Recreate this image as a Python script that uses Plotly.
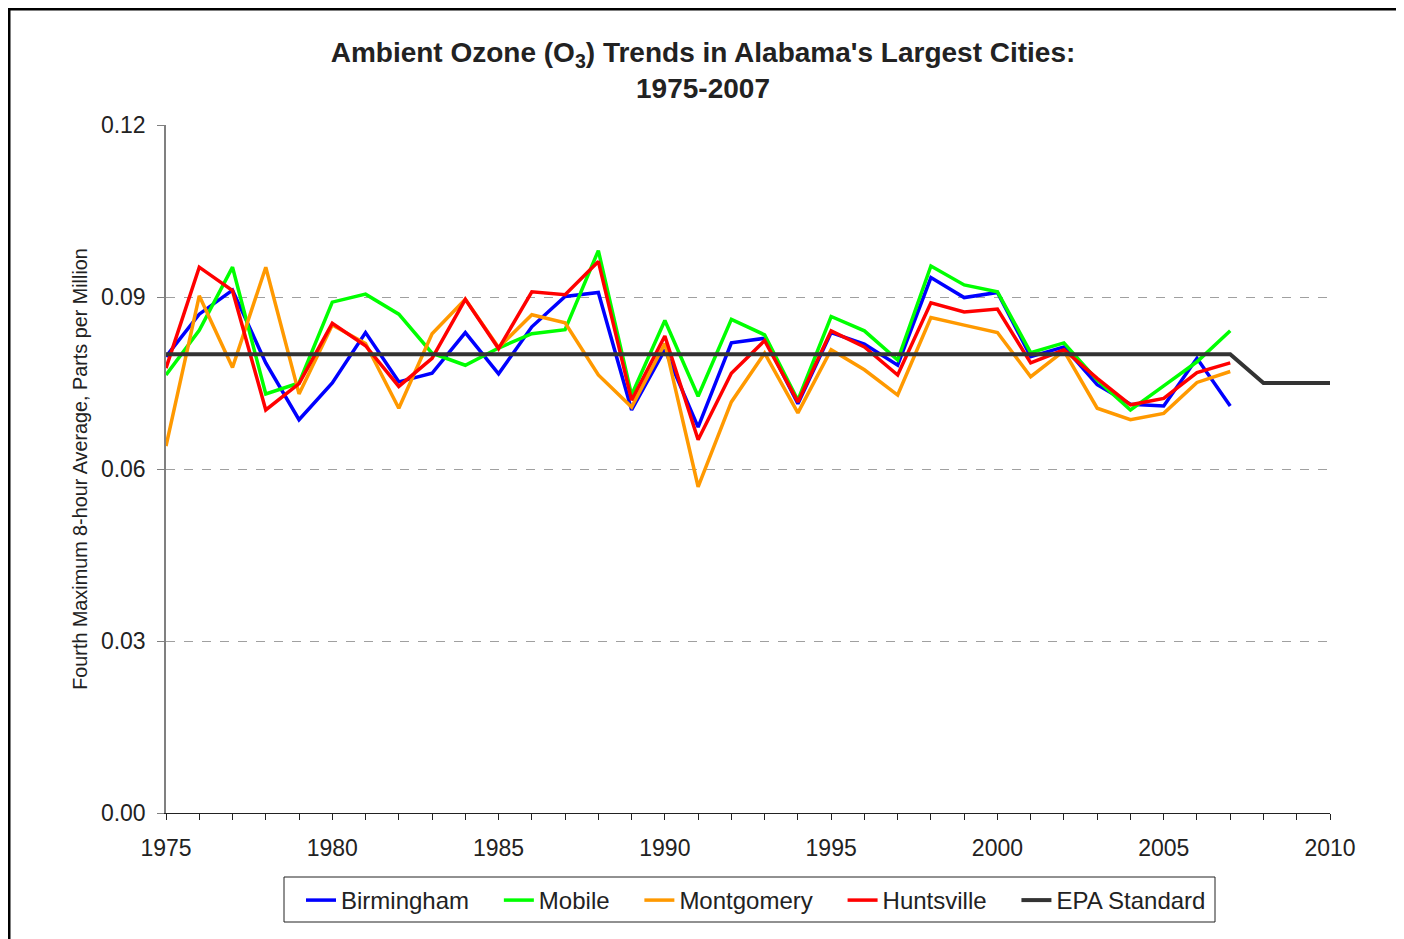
import plotly.graph_objects as go

years = list(range(1975, 2008))
birmingham = [0.0796, 0.0870, 0.0912, 0.0785, 0.0686, 0.0750, 0.0838, 0.0752, 0.0767, 0.0838,
              0.0766, 0.0848, 0.0901, 0.0908, 0.0703, 0.0808, 0.0673, 0.0820, 0.0828, 0.0714,
              0.0838, 0.0818, 0.0781, 0.0934, 0.0899, 0.0908, 0.0796, 0.0813, 0.0747, 0.0713,
              0.0710, 0.0793, 0.0710]
mobile = [0.0764, 0.0842, 0.0952, 0.0731, 0.0750, 0.0891, 0.0905, 0.0870, 0.0802, 0.0781,
          0.0811, 0.0836, 0.0843, 0.0981, 0.0729, 0.0859, 0.0727, 0.0861, 0.0834, 0.0720,
          0.0866, 0.0841, 0.0790, 0.0954, 0.0921, 0.0909, 0.0803, 0.0820, 0.0755, 0.0703,
          0.0745, 0.0787, 0.0841]
montgomery = [0.0640, 0.0902, 0.0777, 0.0952, 0.0731, 0.0851, 0.0819, 0.0706, 0.0836, 0.0896,
              0.0812, 0.0869, 0.0855, 0.0764, 0.0708, 0.0819, 0.0569, 0.0717, 0.0802, 0.0698,
              0.0808, 0.0773, 0.0729, 0.0864, 0.0851, 0.0838, 0.0761, 0.0806, 0.0706, 0.0686,
              0.0697, 0.0751, 0.0770]
huntsville = [0.0776, 0.0952, 0.0911, 0.0703, 0.0749, 0.0854, 0.0815, 0.0744, 0.0793, 0.0896,
              0.0810, 0.0909, 0.0904, 0.0962, 0.0720, 0.0832, 0.0651, 0.0767, 0.0824, 0.0717,
              0.0841, 0.0813, 0.0764, 0.0890, 0.0874, 0.0879, 0.0785, 0.0808, 0.0758, 0.0712,
              0.0723, 0.0768, 0.0785]
epa_years = list(range(1975, 2011))
epa_standard = [0.08] * 33 + [0.075] * 3

series = [
    ("Birmingham", years, birmingham, "#0000ff", 3.5),
    ("Mobile", years, mobile, "#00ff00", 3.5),
    ("Montgomery", years, montgomery, "#ff9900", 3.5),
    ("Huntsville", years, huntsville, "#ff0000", 3.5),
    ("EPA Standard", epa_years, epa_standard, "#333333", 4),
]

pad = "\u00a0\u00a0\u00a0\u2009"

fig = go.Figure()
for name, xs, ys, color, w in series:
    fig.add_trace(go.Scatter(x=xs, y=ys, name=name + pad, mode="lines",
                             line=dict(color=color, width=w)))

font_family = "Liberation Sans, Arial, sans-serif"
txt = "#222222"

# pixel -> paper helpers (plot area 166..1330 x, 125..813 y on the page)
def px(x):
    return (x - 166) / 1164

def py(y):
    return (813 - y) / 688

fig.update_layout(
    width=1396, height=931,
    paper_bgcolor="white", plot_bgcolor="white",
    margin=dict(l=158, r=74, t=117, b=126),
    font=dict(family=font_family, color=txt),
    title=dict(
        text="<b>Ambient Ozone (O<sub>3</sub>) Trends in Alabama's Largest Cities:<br>1975-2007</b>",
        x=(703 - 8) / 1396, xref="container", xanchor="center",
        y=1 - 54 / 931, yref="container", yanchor="top",
        font=dict(size=28, family=font_family, color=txt),
    ),
    xaxis=dict(
        range=[1975, 2010], dtick=5, tick0=1975,
        showgrid=False, zeroline=False,
        showline=True, linecolor=txt, linewidth=1,
        ticks="outside", ticklen=6, tickcolor=txt,
        ticklabelstandoff=8,
        tickfont=dict(size=23, color=txt),
        minor=dict(dtick=1, ticks="outside", ticklen=6, tickcolor=txt, showgrid=False),
    ),
    yaxis=dict(
        range=[0, 0.12], dtick=0.03, tickformat=".2f",
        showgrid=True, gridcolor="#a0a0a0", griddash="dash", gridwidth=1,
        zeroline=False,
        showline=True, linecolor="#808080", linewidth=1.5,
        ticks="outside", ticklen=7, tickcolor="#808080",
        ticklabelstandoff=7,
        tickfont=dict(size=23, color=txt),
        title=dict(text="Fourth Maximum 8-hour Average, Parts per Million",
                   font=dict(size=19.8, color=txt), standoff=8),
    ),
    legend=dict(
        orientation="h", x=px(301), xanchor="left", y=py(878), yanchor="top",
        borderwidth=0, bgcolor="rgba(0,0,0,0)",
        font=dict(size=24, color=txt),
        itemwidth=30, tracegroupgap=0,
    ),
    shapes=[
        dict(type="rect", xref="paper", yref="paper",
             x0=px(9), x1=px(1400), y0=-0.2, y1=py(9),
             line=dict(color="black", width=3), fillcolor="rgba(0,0,0,0)"),
        dict(type="rect", xref="paper", yref="paper",
             x0=px(284), x1=px(1215), y0=py(922), y1=py(877),
             line=dict(color=txt, width=1), fillcolor="rgba(0,0,0,0)"),
    ],
)

fig.write_html("out.html")
